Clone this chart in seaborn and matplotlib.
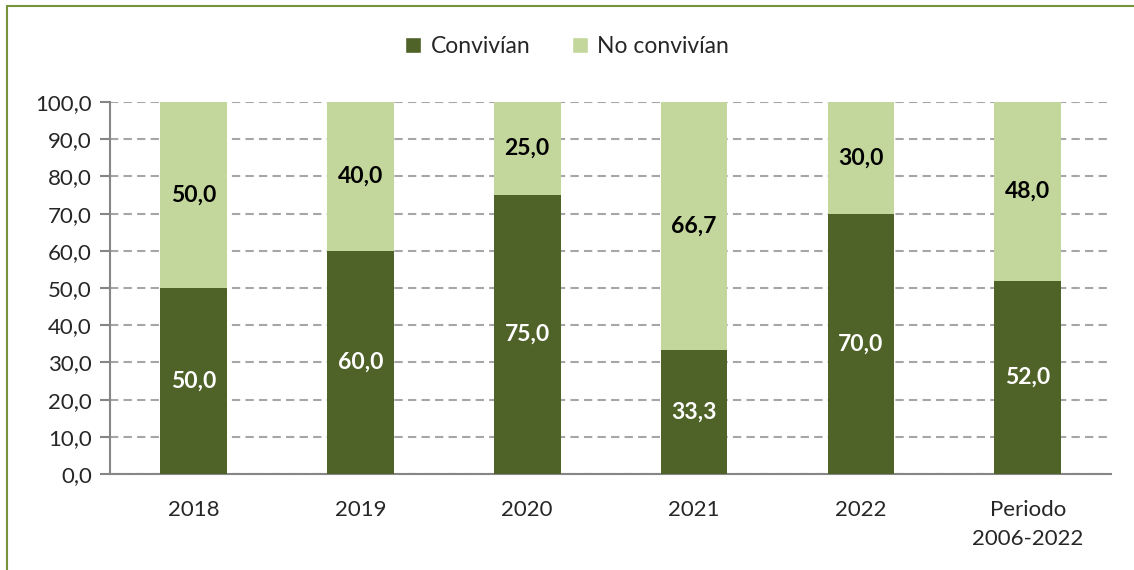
import pandas as pd
import matplotlib.pyplot as plt
import seaborn as sns
from matplotlib.lines import Line2D
from matplotlib.patches import Patch

# datos
categorias = ["2018", "2019", "2020", "2021", "2022", "Periodo\n2006-2022"]
convivian = [50.0, 60.0, 75.0, 33.3, 70.0, 52.0]
no_convivian = [50.0, 40.0, 25.0, 66.7, 30.0, 48.0]

col_osc = "#4F6228"
col_cla = "#C3D69B"

df = pd.DataFrame({"cat": categorias, "conv": convivian, "noconv": no_convivian})
df["total"] = df["conv"] + df["noconv"]

sns.set_theme(style="white")
plt.rcParams['font.family'] = ['Lato', 'DejaVu Sans']

fig = plt.figure(figsize=(11.34, 5.70), dpi=100)
ax = fig.add_axes([0.097, 0.1684, 0.883, 0.6526])

# barras apiladas: fondo claro (total) y encima la parte oscura
sns.barplot(data=df, x="cat", y="total", color=col_cla, width=0.4, saturation=1,
            linewidth=0, ax=ax, zorder=3)
sns.barplot(data=df, x="cat", y="conv", color=col_osc, width=0.4, saturation=1,
            linewidth=0, ax=ax, zorder=3)

def fmt(v):
    return f"{v:.1f}".replace(".", ",")

for i, row in df.iterrows():
    ax.text(i, row["conv"] / 2, fmt(row["conv"]), ha="center", va="center",
            color="white", fontsize=16.5, fontweight="bold", zorder=5)
    ax.text(i, row["conv"] + row["noconv"] / 2, fmt(row["noconv"]), ha="center", va="center",
            color="black", fontsize=16.5, fontweight="bold", zorder=5)

ax.set_ylim(0, 100)
ax.set_xlim(-0.5, len(categorias) - 0.5)
ax.set_yticks(range(0, 101, 10))
ax.set_yticklabels([fmt(v) for v in range(0, 101, 10)], fontsize=16, color="#262626")
ax.set_xticks(range(len(categorias)))
ax.set_xticklabels(categorias, fontsize=16, color="#262626", linespacing=1.55)
ax.set_xlabel("")
ax.set_ylabel("")

# ticks x en los limites de categoria
ax.set_xticks([i - 0.5 for i in range(len(categorias) + 1)], minor=True)
ax.tick_params(axis="x", which="major", length=0, pad=19)
ax.tick_params(axis="x", which="minor", length=7, width=1.5, color="#868686", direction="out")
ax.tick_params(axis="y", length=7, width=1.5, color="#868686", direction="out", pad=6, left=True)

ax.yaxis.grid(True, linestyle=(0, (4, 2.5)), color="#A6A6A6", linewidth=1.5, zorder=0)
ax.set_axisbelow(True)
for s in ["top", "right"]:
    ax.spines[s].set_visible(False)
for s in ["left", "bottom"]:
    ax.spines[s].set_color("#868686")
    ax.spines[s].set_linewidth(1.5)

handles = [Patch(facecolor=col_osc, label="Convivían"), Patch(facecolor=col_cla, label="No convivían")]
fig.legend(handles=handles, loc="center", bbox_to_anchor=(0.5, 0.918), ncol=2, frameon=False,
           fontsize=16.5, handlelength=0.7, handleheight=0.7, handletextpad=0.4, columnspacing=1.8)

# borde verde del grafico
fig.add_artist(Line2D([0.006, 1.0], [0.9895, 0.9895], color="#77933C", linewidth=1.5))
fig.add_artist(Line2D([0.006, 0.006], [0.0, 0.9895], color="#77933C", linewidth=1.5))

fig.savefig("out.png", dpi=100)
